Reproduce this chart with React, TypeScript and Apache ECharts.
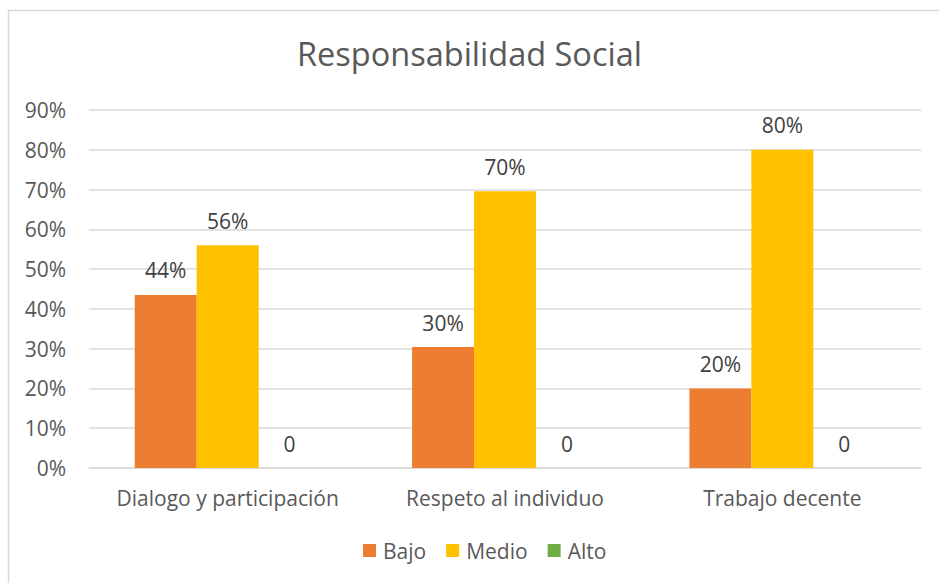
import React, { useEffect, useRef } from "react";
import * as echarts from "echarts";

const categories = ["Dialogo y participación", "Respeto al individuo", "Trabajo decente"];
const bajo = [0.435, 0.304, 0.2];
const medio = [0.56, 0.696, 0.8];
const alto = [0, 0, 0];
const seriesNames = ["Bajo", "Medio", "Alto"];
const colors = ["#ED7D31", "#FFC000", "#70AD47"];

const FONT = "'Open Sans', sans-serif";

export default function App() {
  const ref = useRef<HTMLDivElement>(null);
  useEffect(() => {
    if (!ref.current) return;
    const chart = echarts.init(ref.current, undefined, { renderer: "svg" });
    const fmt = (p: any) => (p.value === 0 ? "0" : Math.round(p.value * 100) + "%");
    const mk = (name: string, data: number[], color: string) => ({
      name,
      type: "bar",
      data,
      itemStyle: { color },
      barGap: "0%",
      barCategoryGap: "33%",
      label: {
        show: true,
        position: "top",
        distance: 14,
        formatter: fmt,
        color: "#404040",
        fontFamily: FONT,
        fontSize: 21,
      },
    });
    chart.setOption({
      animation: false,
      backgroundColor: "#fff",
      textStyle: { fontFamily: FONT },
      title: {
        text: "Responsabilidad Social",
        left: "center",
        top: 32,
        textStyle: { fontFamily: FONT, fontSize: 32.5, fontWeight: "normal", color: "#595959" },
      },
      graphic: [
        {
          type: "rect",
          shape: { x: 8.5, y: 10.5, width: 940, height: 590 },
          style: { fill: "none", stroke: "#d9d9d9", lineWidth: 1.5 },
          silent: true,
          z: -1,
        },
      ],
      legend: {
        data: seriesNames,
        bottom: 17,
        left: 358,
        itemWidth: 13,
        itemHeight: 13,
        itemGap: 20,
        icon: "rect",
        textStyle: { fontFamily: FONT, fontSize: 21, color: "#595959", padding: [0, 0, 0, 2] },
      },
      grid: { left: 89, right: 18, top: 110, bottom: 115, containLabel: false },
      xAxis: {
        type: "category",
        data: categories,
        axisLine: { lineStyle: { color: "#d9d9d9", width: 1.5 } },
        axisTick: { show: false },
        axisLabel: { interval: 0, fontFamily: FONT, fontSize: 21, color: "#595959", margin: 19 },
      },
      yAxis: {
        type: "value",
        min: 0,
        max: 0.9,
        interval: 0.1,
        axisLine: { show: false },
        axisTick: { show: false },
        splitLine: { lineStyle: { color: "#d9d9d9", width: 1.5 } },
        axisLabel: {
          fontFamily: FONT,
          fontSize: 21,
          color: "#595959",
          margin: 23,
          formatter: (v: number) => Math.round(v * 100) + "%",
        },
      },
      series: [
        mk(seriesNames[0], bajo, colors[0]),
        mk(seriesNames[1], medio, colors[1]),
        mk(seriesNames[2], alto, colors[2]),
      ],
    });
    return () => chart.dispose();
  }, []);
  return (
    <div
      ref={ref}
      style={{ position: "fixed", left: 0, top: 0, width: 939, height: 583 }}
    />
  );
}
